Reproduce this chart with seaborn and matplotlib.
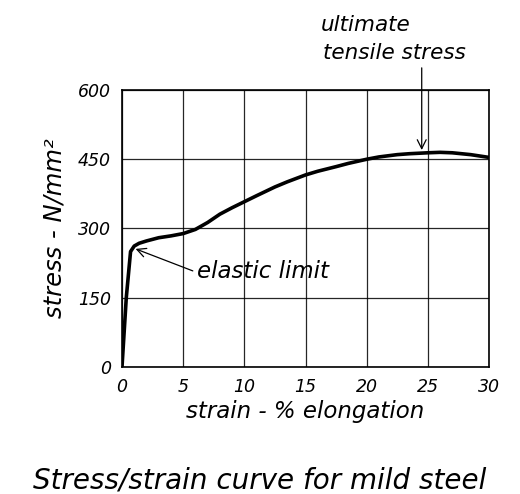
import matplotlib
matplotlib.use("Agg")
import matplotlib.pyplot as plt
import seaborn as sns
import pandas as pd

# Stress/strain readings for a mild steel tensile test
strain = [0, 0.35, 0.7, 1.0, 1.4, 2.0, 3.0, 4.0, 5.0, 6.0, 7.0, 8.0, 9.0,
          10.0, 11.0, 12.5, 13.5, 15.0, 16.0, 17.5, 18.5, 20.0, 21.0,
          22.5, 23.5, 25.0, 26.0, 27.0, 28.5, 30.0]
stress = [0, 150, 250, 262, 268, 273, 280, 284, 289, 298, 313, 331, 345,
          358, 371, 390, 401, 416, 424, 434, 441, 450, 455,
          460, 462, 464, 465, 464, 460, 454]

x_ticks = [0, 5, 10, 15, 20, 25, 30]
y_ticks = [0, 150, 300, 450, 600]

# Annotated points on the curve
elastic_limit = (0.9, 258)
elastic_label = (6.0, 206)
uts_point = (24.5, 464)

sns.set_theme(style="white")
plt.rcParams["font.family"] = ["DejaVu Sans"]
plt.rcParams["font.style"] = "oblique"
plt.rcParams["text.color"] = "black"

df = pd.DataFrame({"strain": strain, "stress": stress})

fig = plt.figure(figsize=(5.2, 4.94), dpi=100)
ax = fig.add_axes([0.2346, 0.2571, 0.7058, 0.5607])

sns.lineplot(data=df, x="strain", y="stress", sort=False, color="black",
             linewidth=2.6, ax=ax)

ax.set_xlim(0, 30)
ax.set_ylim(0, 600)
ax.set_xticks(x_ticks)
ax.set_yticks(y_ticks)
ax.set_xticklabels([str(t) for t in x_ticks], fontsize=12.5)
ax.set_yticklabels([str(t) for t in y_ticks], fontsize=12.5)
ax.tick_params(length=0, pad=8, colors="black")

ax.grid(True, color="black", linewidth=0.9, alpha=0.85)
for s in ax.spines.values():
    s.set_visible(True)
    s.set_color("black")
    s.set_linewidth(1.2)

ax.set_xlabel("strain - % elongation", fontsize=16.5, labelpad=3, color="black")
ax.set_ylabel("stress - N/mm²", fontsize=17.5, labelpad=8, color="black")

# Elastic limit callout
ax.annotate("", xy=elastic_limit, xytext=elastic_label,
            arrowprops=dict(arrowstyle="->", color="black", lw=0.9,
                            mutation_scale=16))
ax.text(elastic_label[0] + 0.1, elastic_label[1], "elastic limit",
        fontsize=16.5, ha="left", va="center", color="black")

# Ultimate tensile stress callout
ax.annotate("", xy=uts_point, xytext=(uts_point[0], 654),
            annotation_clip=False,
            arrowprops=dict(arrowstyle="->", color="black", lw=0.9,
                            mutation_scale=16))
fig.text(321 / 520, 1 - 25 / 494, "ultimate", fontsize=15.5,
         ha="left", va="center", color="black")
fig.text(323 / 520, 1 - 53 / 494, "tensile stress", fontsize=15.5,
         ha="left", va="center", color="black")

fig.text(0.5, 1 - 480 / 494, "Stress/strain curve for mild steel",
         fontsize=20, ha="center", va="center", color="black")

fig.savefig("out.png", dpi=100)
